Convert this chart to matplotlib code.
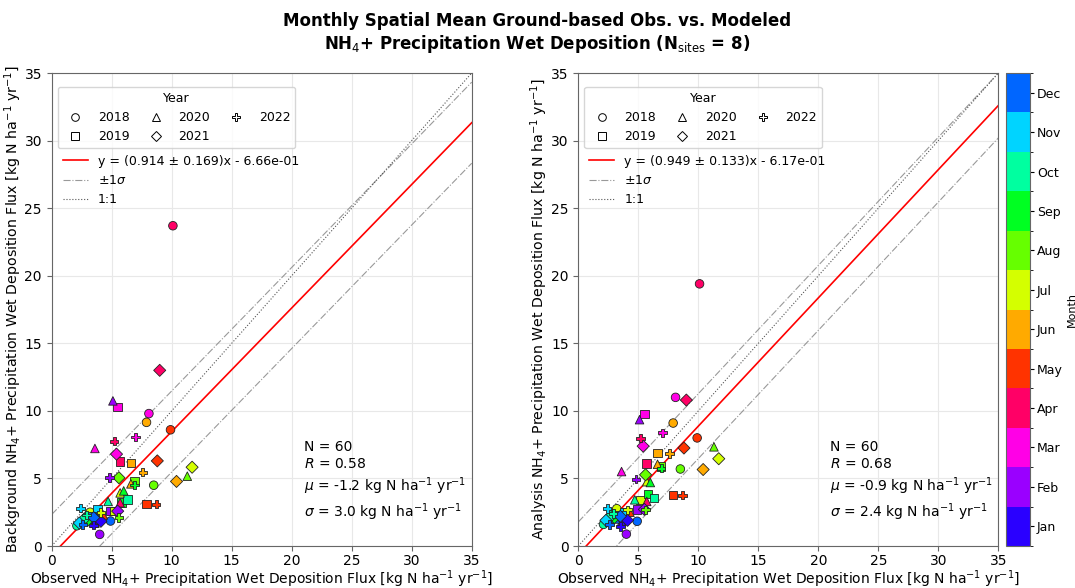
import numpy as np
import matplotlib
matplotlib.use("Agg")
import matplotlib.pyplot as plt
from matplotlib.colors import ListedColormap, BoundaryNorm
from matplotlib.lines import Line2D

# ---------------- data ----------------
month_names = ["Jan", "Feb", "Mar", "Apr", "May", "Jun",
               "Jul", "Aug", "Sep", "Oct", "Nov", "Dec"]
month_colors = ["#2a00ff", "#9a00ff", "#ff00e6", "#ff0066", "#ff3300", "#ffaa00",
                "#d4ff00", "#66ff00", "#00ff22", "#00ffa0", "#00d4ff", "#0066ff"]
years = [2018, 2019, 2020, 2021, 2022]
year_markers = {2018: "o", 2019: "s", 2020: "^", 2021: "D", 2022: "P"}

# each record: year, month (1-12)
pt_year = [2018]*12 + [2019]*12 + [2020]*12 + [2021]*12 + [2022]*12
pt_month = list(range(1, 13))*5

observed = [
    # 2018
    3.9, 4.0, 8.1, 10.1, 9.9, 7.9, 3.2, 8.5, 3.0, 2.1, 2.5, 4.9,
    # 2019
    3.5, 4.9, 5.5, 5.7, 7.9, 6.6, 5.2, 6.9, 5.8, 6.3, 3.8, 3.3,
    # 2020
    3.6, 5.1, 3.6, 5.7, 4.3, 6.6, 5.7, 11.3, 6.0, 4.7, 2.8, 3.1,
    # 2021
    4.1, 5.5, 5.4, 9.0, 8.8, 10.4, 11.7, 5.6, 3.0, 2.7, 2.3, 3.5,
    # 2022
    3.5, 4.8, 7.0, 5.2, 8.7, 7.6, 4.1, 5.6, 6.9, 2.9, 2.4, 2.6,
]
background = [
    # 2018
    1.9, 0.86, 9.8, 23.7, 8.6, 9.15, 2.5, 4.5, 2.0, 1.5, 1.8, 1.85,
    # 2019
    2.0, 2.6, 10.3, 6.27, 3.1, 6.15, 2.58, 4.8, 3.24, 3.46, 2.69, 2.2,
    # 2020
    1.7, 10.74, 7.22, 3.2, 2.3, 4.6, 3.93, 5.17, 4.08, 3.3, 2.22, 1.98,
    # 2021
    1.83, 2.58, 6.8, 13.0, 6.3, 4.78, 5.83, 5.05, 1.9, 2.0, 1.7, 2.1,
    # 2022
    1.54, 5.07, 8.07, 7.76, 3.1, 5.47, 2.47, 2.1, 4.52, 2.3, 2.8, 1.6,
]
analysis = [
    # 2018
    1.9, 0.88, 11.0, 19.4, 8.0, 9.1, 2.76, 5.7, 2.2, 1.6, 2.0, 1.83,
    # 2019
    2.1, 2.7, 9.76, 6.1, 3.76, 6.88, 3.42, 5.9, 3.86, 3.56, 2.5, 2.3,
    # 2020
    1.8, 9.35, 5.51, 3.3, 2.5, 6.05, 4.76, 7.34, 4.7, 3.42, 2.3, 2.0,
    # 2021
    1.9, 2.71, 7.39, 10.8, 7.25, 5.66, 6.46, 5.27, 2.1, 2.2, 1.9, 2.2,
    # 2022
    1.45, 4.95, 8.37, 7.98, 3.76, 6.83, 2.68, 2.68, 5.76, 2.4, 2.78, 1.6,
]

panels = [
    dict(model=background, ylabel="Background", slope=0.914, slope_err=0.169,
         intercept=-0.666, sigma=3.0, N=60, R=0.58, mu=-1.2),
    dict(model=analysis, ylabel="Analysis", slope=0.949, slope_err=0.133,
         intercept=-0.617, sigma=2.4, N=60, R=0.68, mu=-0.9),
]
ticks = [0, 5, 10, 15, 20, 25, 30, 35]

# ---------------- figure ----------------
plt.rcParams["font.family"] = ["DejaVu Sans"]
fig = plt.figure(figsize=(10.75, 5.88), dpi=100)
bottom, height = 0.0714, 0.8044
ax_pos = [[0.0481, bottom, 0.3907, height], [0.538, bottom, 0.3907, height]]
cax = fig.add_axes([0.9358, bottom, 0.0223, height])

cmap = ListedColormap(month_colors)
norm = BoundaryNorm(np.arange(0.5, 13.5, 1), cmap.N)

obs = np.array(observed)
yrs = np.array(pt_year)
mos = np.array(pt_month)

for pos, p in zip(ax_pos, panels):
    ax = fig.add_axes(pos)
    mod = np.array(p["model"])
    ax.grid(True, color="#e8e8e8", linewidth=0.8, zorder=0)
    ax.set_axisbelow(True)
    xx = np.linspace(0, 35, 200)
    fit = p["slope"] * xx + p["intercept"]
    l_fit, = ax.plot(xx, fit, color="red", lw=1.2, zorder=2)
    l_sig, = ax.plot(xx, fit + p["sigma"], color="gray", ls="-.", lw=0.8, alpha=0.8, zorder=2)
    ax.plot(xx, fit - p["sigma"], color="gray", ls="-.", lw=0.8, alpha=0.8, zorder=2)
    l_11, = ax.plot(xx, xx, color="#555555", ls=":", lw=0.8, zorder=2)
    for y in years:
        m = yrs == y
        ax.scatter(obs[m], mod[m], c=mos[m], cmap=cmap, norm=norm,
                   marker=year_markers[y], s=38, edgecolors="#222222",
                   linewidths=0.6, zorder=3)
    ax.set_xlim(0, 35)
    ax.set_ylim(0, 35)
    ax.set_xticks(ticks)
    ax.set_yticks(ticks)
    ax.tick_params(labelsize=10, color="#666666")
    ax.tick_params(axis="x", pad=2.5)
    for s in ax.spines.values():
        s.set_color("#666666")
    ax.set_xlabel("Observed NH$_4$+ Precipitation Wet Deposition Flux [kg N ha$^{-1}$ yr$^{-1}$]",
                  fontsize=10, labelpad=0)
    ax.set_ylabel(p["ylabel"] + " NH$_4$+ Precipitation Wet Deposition Flux [kg N ha$^{-1}$ yr$^{-1}$]",
                  fontsize=10.2, labelpad=0.5)

    year_handles = [Line2D([], [], marker=year_markers[y], ls="none", mfc="none",
                           mec="black", mew=0.7, ms=5.5) for y in years]
    leg1 = ax.legend(year_handles, [str(y) for y in years], title="Year", ncol=3,
                     loc="upper left", bbox_to_anchor=(0.0143, 0.971), borderaxespad=0,
                     fontsize=9, title_fontsize=9, columnspacing=1.1,
                     framealpha=0.8)
    ax.add_artist(leg1)
    ax.legend([l_fit, l_sig, l_11],
              [f"y = ({p['slope']:.3f} ± {p['slope_err']:.3f})x - {abs(p['intercept']):.2e}",
               r"±1$\sigma$", "1:1"],
              loc="upper left", bbox_to_anchor=(0.0143, 0.838), borderaxespad=0,
              frameon=False, fontsize=9)

    stats = (f"N = {p['N']}\n$R$ = {p['R']:.2f}\n"
             f"$\\mu$ = {p['mu']:.1f} kg N ha$^{{-1}}$ yr$^{{-1}}$\n"
             f"$\\sigma$ = {p['sigma']:.1f} kg N ha$^{{-1}}$ yr$^{{-1}}$")
    ax.text(0.6, 0.225, stats, transform=ax.transAxes, fontsize=10, va="top",
            ha="left", linespacing=1.3)

sm = plt.cm.ScalarMappable(cmap=cmap, norm=norm)
cb = fig.colorbar(sm, cax=cax, ticks=range(1, 13))
cb.ax.set_yticklabels(month_names, fontsize=9)
cb.ax.tick_params(pad=2, length=3)
cb.outline.set_edgecolor("#666666")
cb.set_label("Month", fontsize=8, labelpad=3)

fig.suptitle("Monthly Spatial Mean Ground-based Obs. vs. Modeled\n"
             "NH$_4$+ Precipitation Wet Deposition (N$_{\\rm sites}$ = 8)",
             fontsize=12, fontweight="bold", y=0.98)

fig.savefig("out.png", dpi=100)
